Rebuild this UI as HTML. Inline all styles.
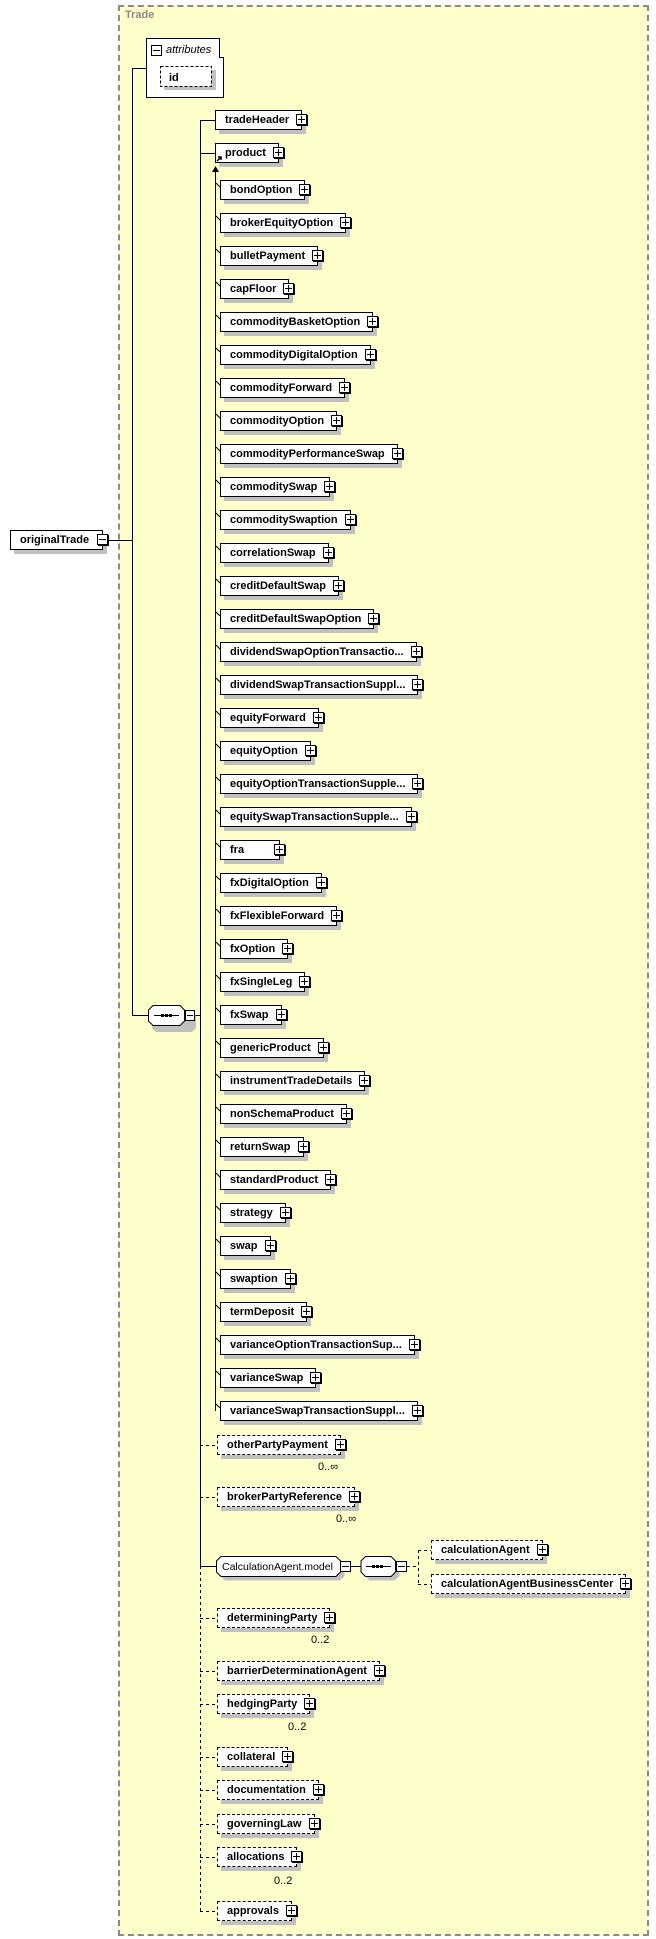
<!DOCTYPE html>
<html><head><meta charset="utf-8"><style>
body{margin:0;width:656px;height:1939px;background:#fff;position:relative;overflow:hidden;font-family:"Liberation Sans",sans-serif}
#trade{position:absolute;left:118px;top:5px;width:531px;height:1931px;background:#ffffcc;border:2px dashed #8a8a8a;box-sizing:border-box}
#tl{position:absolute;left:125px;top:9px;font:bold 11px "Liberation Sans",sans-serif;color:#8a8a8a}
svg{position:absolute;left:0;top:0}
.e{position:absolute;height:20px;box-sizing:border-box;border:1px solid #000;background:#fff;box-shadow:4px 4px 0 #c0c0c0;font:bold 11px "Liberation Sans",sans-serif;line-height:18px;padding:0 12px 0 9px;white-space:nowrap;color:#000}
.d{border-style:dashed}
.p{position:absolute;right:-6px;top:3px;width:9px;height:9px;border:1px solid #000;background:#fff;box-shadow:1px 1px 0 #000}
.p:before{content:"";position:absolute;left:1px;top:4px;width:7px;height:1px;background:#000}
.p:after{content:"";position:absolute;left:4px;top:1px;width:1px;height:7px;background:#000}
.m:after{display:none}
.mul{position:absolute;font:11px "Liberation Sans",sans-serif;color:#000}
</style></head><body>
<div id="trade"></div>
<div id="tl">Trade</div>
<svg width="656" height="1939">
<g stroke="#000" stroke-width="1" fill="none" shape-rendering="crispEdges">
<line x1="108" y1="540.5" x2="132" y2="540.5"/>
<line x1="132.5" y1="68" x2="132.5" y2="1015"/>
<line x1="132" y1="68.5" x2="146" y2="68.5"/>
<line x1="132" y1="1015.5" x2="149" y2="1015.5"/>
<line x1="195" y1="1015.5" x2="200" y2="1015.5"/>
<line x1="200.5" y1="120" x2="200.5" y2="1566"/>
<line x1="200.5" y1="1566" x2="200.5" y2="1911" stroke-dasharray="3,3"/>
<line x1="200" y1="120.5" x2="215" y2="120.5"/>
<line x1="200" y1="153.5" x2="215" y2="153.5"/>
<line x1="200" y1="1566.5" x2="217" y2="1566.5"/>
<g stroke-dasharray="3,3">
<line x1="200" y1="1445.5" x2="217" y2="1445.5"/>
<line x1="200" y1="1497.5" x2="217" y2="1497.5"/>
<line x1="200" y1="1618.5" x2="217" y2="1618.5"/>
<line x1="200" y1="1671.5" x2="217" y2="1671.5"/>
<line x1="200" y1="1704.5" x2="217" y2="1704.5"/>
<line x1="200" y1="1757.5" x2="217" y2="1757.5"/>
<line x1="200" y1="1790.5" x2="217" y2="1790.5"/>
<line x1="200" y1="1824.5" x2="217" y2="1824.5"/>
<line x1="200" y1="1857.5" x2="217" y2="1857.5"/>
<line x1="200" y1="1911.5" x2="217" y2="1911.5"/>
<line x1="407" y1="1566.5" x2="418" y2="1566.5"/>
<line x1="418.5" y1="1550" x2="418.5" y2="1584"/>
<line x1="418" y1="1550.5" x2="431" y2="1550.5"/>
<line x1="418" y1="1584.5" x2="431" y2="1584.5"/>
</g>
<line x1="215.5" y1="170" x2="215.5" y2="1411"/>
<line x1="351" y1="1566.5" x2="361" y2="1566.5"/>
</g>
<polygon points="212,172 219,172 215.5,166" fill="#000"/>
<polygon points="153,1009 189,1009 193,1013 193,1025 189,1029 153,1029 149,1025 149,1013" fill="#c0c0c0" transform="translate(3,3)"/>
<polygon points="153,1005.5 180,1005.5 184.5,1010 184.5,1021 180,1025.5 153,1025.5 148.5,1021 148.5,1010" fill="#fff" stroke="#000"/>
<line x1="154" y1="1015.5" x2="179" y2="1015.5" stroke="#000"/>
<rect x="161" y="1014" width="3" height="3"/><rect x="165" y="1014" width="3" height="3"/><rect x="169" y="1014" width="3" height="3"/>
<polygon points="221,1556.5 336,1556.5 340.5,1561 340.5,1572 336,1576.5 221,1576.5 216.5,1572 216.5,1561" fill="#c0c0c0" transform="translate(4,4)"/>
<polygon points="221,1556.5 336,1556.5 340.5,1561 340.5,1572 336,1576.5 221,1576.5 216.5,1572 216.5,1561" fill="#fff" stroke="#000"/>
<text x="222" y="1570" font-family="Liberation Sans" font-size="10.5">CalculationAgent.model</text>
<polygon points="365.5,1556.5 391,1556.5 395.5,1561 395.5,1572 391,1576.5 365.5,1576.5 361,1572 361,1561" fill="#c0c0c0" transform="translate(4,4)"/>
<polygon points="365.5,1556.5 391,1556.5 395.5,1561 395.5,1572 391,1576.5 365.5,1576.5 361,1572 361,1561" fill="#fff" stroke="#000"/>
<line x1="366" y1="1566.5" x2="391" y2="1566.5" stroke="#000"/>
<rect x="372" y="1565" width="3" height="3"/><rect x="376" y="1565" width="3" height="3"/><rect x="380" y="1565" width="3" height="3"/>
<g>
<rect x="185.5" y="1010.5" width="9" height="10" fill="#fff" stroke="#000"/><line x1="187" y1="1015.5" x2="193" y2="1015.5" stroke="#000"/>
<rect x="340.5" y="1561.5" width="10" height="10" fill="#fff" stroke="#000"/><line x1="342" y1="1566.5" x2="349" y2="1566.5" stroke="#000"/>
<rect x="396.5" y="1561.5" width="10" height="10" fill="#fff" stroke="#000"/><line x1="398" y1="1566.5" x2="405" y2="1566.5" stroke="#000"/>
</g>
<polygon points="146.5,38.5 219.5,38.5 219.5,57.5 223.5,57.5 223.5,97.5 146.5,97.5" fill="#fff" stroke="#000"/>
<rect x="151.5" y="45.5" width="10" height="10" fill="#fff" stroke="#000"/><line x1="153" y1="50.5" x2="160" y2="50.5" stroke="#000"/>
<text x="166" y="53" font-family="Liberation Sans" font-style="italic" font-size="11">attributes</text>
<rect x="164" y="70" width="52" height="20" fill="#c0c0c0"/>
<rect x="160.5" y="66.5" width="51" height="20" fill="#fff" stroke="#000" stroke-dasharray="3,2"/>
<text x="169" y="81" font-family="Liberation Sans" font-weight="bold" font-size="11">id</text>
<g stroke="#000"><line x1="433" y1="1576.5" x2="437" y2="1576.5"/><line x1="433" y1="1578.5" x2="437" y2="1578.5"/><line x1="433" y1="1580.5" x2="437" y2="1580.5"/>
<line x1="219" y1="1816.5" x2="223" y2="1816.5"/><line x1="219" y1="1818.5" x2="223" y2="1818.5"/><line x1="219" y1="1820.5" x2="223" y2="1820.5"/></g>
</svg>

<div class="e" style="left:10px;top:530px;width:93px">originalTrade<span class="p m"></span></div>
<div class="e" style="left:215px;top:110px">tradeHeader<span class="p"></span></div>
<div class="e" style="left:215px;top:143px">product<span class="p"></span></div>

<div class="e d" style="left:217px;top:1435px">otherPartyPayment<span class="p"></span></div>
<div class="mul" style="left:318px;top:1461px">0..∞</div>
<div class="e d" style="left:217px;top:1487px">brokerPartyReference<span class="p"></span></div>
<div class="mul" style="left:336px;top:1513px">0..∞</div>
<div class="e d" style="left:431px;top:1540px">calculationAgent<span class="p"></span></div>
<div class="e d" style="left:431px;top:1574px">calculationAgentBusinessCenter<span class="p"></span></div>
<div class="e d" style="left:217px;top:1608px">determiningParty<span class="p"></span></div>
<div class="mul" style="left:311px;top:1634px">0..2</div>
<div class="e d" style="left:217px;top:1661px">barrierDeterminationAgent<span class="p"></span></div>
<div class="e d" style="left:217px;top:1694px">hedgingParty<span class="p"></span></div>
<div class="mul" style="left:288px;top:1721px">0..2</div>
<div class="e d" style="left:217px;top:1747px">collateral<span class="p"></span></div>
<div class="e d" style="left:217px;top:1780px">documentation<span class="p"></span></div>
<div class="e d" style="left:217px;top:1814px">governingLaw<span class="p"></span></div>
<div class="e d" style="left:217px;top:1847px">allocations<span class="p"></span></div>
<div class="mul" style="left:274px;top:1875px">0..2</div>
<div class="e d" style="left:217px;top:1901px">approvals<span class="p"></span></div>

<div class="e" style="left:220px;top:180px">bondOption<span class="p"></span></div>
<div class="e" style="left:220px;top:213px">brokerEquityOption<span class="p"></span></div>
<div class="e" style="left:220px;top:246px">bulletPayment<span class="p"></span></div>
<div class="e" style="left:220px;top:279px">capFloor<span class="p"></span></div>
<div class="e" style="left:220px;top:312px">commodityBasketOption<span class="p"></span></div>
<div class="e" style="left:220px;top:345px">commodityDigitalOption<span class="p"></span></div>
<div class="e" style="left:220px;top:378px">commodityForward<span class="p"></span></div>
<div class="e" style="left:220px;top:411px">commodityOption<span class="p"></span></div>
<div class="e" style="left:220px;top:444px">commodityPerformanceSwap<span class="p"></span></div>
<div class="e" style="left:220px;top:477px">commoditySwap<span class="p"></span></div>
<div class="e" style="left:220px;top:510px">commoditySwaption<span class="p"></span></div>
<div class="e" style="left:220px;top:543px">correlationSwap<span class="p"></span></div>
<div class="e" style="left:220px;top:576px">creditDefaultSwap<span class="p"></span></div>
<div class="e" style="left:220px;top:609px">creditDefaultSwapOption<span class="p"></span></div>
<div class="e" style="left:220px;top:642px">dividendSwapOptionTransactio...<span class="p"></span></div>
<div class="e" style="left:220px;top:675px">dividendSwapTransactionSuppl...<span class="p"></span></div>
<div class="e" style="left:220px;top:708px">equityForward<span class="p"></span></div>
<div class="e" style="left:220px;top:741px">equityOption<span class="p"></span></div>
<div class="e" style="left:220px;top:774px">equityOptionTransactionSupple...<span class="p"></span></div>
<div class="e" style="left:220px;top:807px">equitySwapTransactionSupple...<span class="p"></span></div>
<div class="e" style="left:220px;top:840px;width:60px">fra<span class="p"></span></div>
<div class="e" style="left:220px;top:873px">fxDigitalOption<span class="p"></span></div>
<div class="e" style="left:220px;top:906px">fxFlexibleForward<span class="p"></span></div>
<div class="e" style="left:220px;top:939px">fxOption<span class="p"></span></div>
<div class="e" style="left:220px;top:972px">fxSingleLeg<span class="p"></span></div>
<div class="e" style="left:220px;top:1005px">fxSwap<span class="p"></span></div>
<div class="e" style="left:220px;top:1038px">genericProduct<span class="p"></span></div>
<div class="e" style="left:220px;top:1071px">instrumentTradeDetails<span class="p"></span></div>
<div class="e" style="left:220px;top:1104px">nonSchemaProduct<span class="p"></span></div>
<div class="e" style="left:220px;top:1137px">returnSwap<span class="p"></span></div>
<div class="e" style="left:220px;top:1170px">standardProduct<span class="p"></span></div>
<div class="e" style="left:220px;top:1203px">strategy<span class="p"></span></div>
<div class="e" style="left:220px;top:1236px">swap<span class="p"></span></div>
<div class="e" style="left:220px;top:1269px">swaption<span class="p"></span></div>
<div class="e" style="left:220px;top:1302px">termDeposit<span class="p"></span></div>
<div class="e" style="left:220px;top:1335px">varianceOptionTransactionSup...<span class="p"></span></div>
<div class="e" style="left:220px;top:1368px">varianceSwap<span class="p"></span></div>
<div class="e" style="left:220px;top:1401px">varianceSwapTransactionSuppl...<span class="p"></span></div>

<svg width="656" height="1939" style="pointer-events:none">
<path d="M217,161 L221,157 M218,157 L221,157 L221,160" stroke="#000" stroke-width="1.5" fill="none"/>
<g stroke="#000" stroke-width="1">
<path d="M216,183 L220,187 M216,216 L220,220 M216,249 L220,253 M216,282 L220,286 M216,315 L220,319 M216,348 L220,352 M216,381 L220,385 M216,414 L220,418 M216,447 L220,451 M216,480 L220,484 M216,513 L220,517 M216,546 L220,550 M216,579 L220,583 M216,612 L220,616 M216,645 L220,649 M216,678 L220,682 M216,711 L220,715 M216,744 L220,748 M216,777 L220,781 M216,810 L220,814 M216,843 L220,847 M216,876 L220,880 M216,909 L220,913 M216,942 L220,946 M216,975 L220,979 M216,1008 L220,1012 M216,1041 L220,1045 M216,1074 L220,1078 M216,1107 L220,1111 M216,1140 L220,1144 M216,1173 L220,1177 M216,1206 L220,1210 M216,1239 L220,1243 M216,1272 L220,1276 M216,1305 L220,1309 M216,1338 L220,1342 M216,1371 L220,1375 M216,1404 L220,1408"/>
</g>
</svg>
</body></html>
